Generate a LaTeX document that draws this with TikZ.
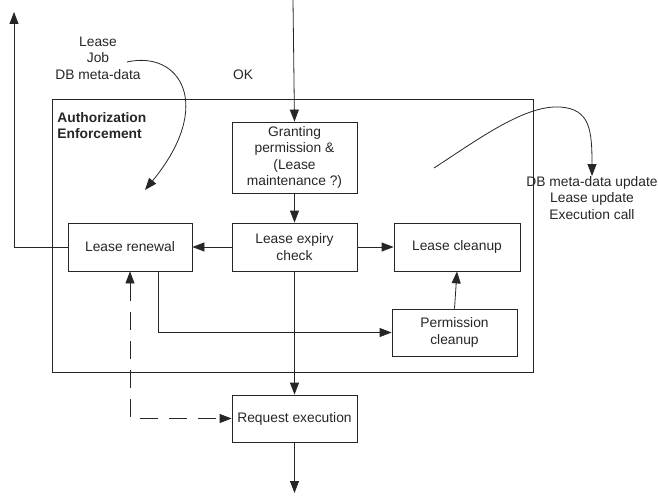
\documentclass[tikz,border=0pt]{standalone}
\usepackage{fontspec}
\setmainfont{Liberation Sans}
\usetikzlibrary{arrows.meta}
\begin{document}
\begin{tikzpicture}[x=1pt,y=-1pt,
  line width=0.8pt, draw=black!85,
  >={Triangle[length=12pt,width=9pt]},
  every node/.style={font=\fontsize{13.8}{16.5}\selectfont, text=black!85},
  stage/.style={draw, inner sep=0pt, align=center, minimum width=125pt, minimum height=48pt},
  caption/.style={align=center, inner sep=0pt},
  flow/.style={->},
  dashflow/.style={<->, dash pattern=on 18pt off 11pt}]
\useasboundingbox (0,0) rectangle (658,495);

% enclosing authorization enforcement area
\node[draw, inner sep=0pt, minimum width=481pt, minimum height=273pt] (auth) at (292.5,235.5) {};
\node[anchor=north west, align=left, inner sep=0pt, font=\fontsize{13.8}{16.5}\selectfont\bfseries] (authlbl) at (57,112) {Authorization\\Enforcement};

% processing stages
\node[stage, minimum height=71pt] (grant) at (294.5,157.5) {Granting\\permission \&\\(Lease\\maintenance ?)};
\node[stage] (expiry) at (294.5,247) {Lease expiry\\check};
\node[stage, minimum width=124pt] (renewal) at (130,247) {Lease renewal};
\node[stage, minimum width=126pt] (cleanup) at (457,247) {Lease cleanup};
\node[stage, minimum height=47pt] (perm) at (454.5,332.5) {Permission\\cleanup};
\node[stage, minimum height=47pt] (exec) at (294.5,418.5) {Request execution};

% annotations
\node[caption] (inputs) at (98,58) {Lease\\Job\\DB meta-data};
\node[caption] (ok) at (243,75) {OK};
\node[caption] (outputs) at (592,198) {DB meta-data update\\Lease update\\Execution call};

% free ends
\coordinate (topin) at (293,0);
\coordinate (leftout) at (14,12);
\coordinate (bottomout) at (294.5,493);
\coordinate (inStart) at (127,62);
\coordinate (outStart) at (434,168);

% main flow
\draw[flow] (topin) -- (grant.north);
\draw[flow] (grant) -- (expiry);
\draw[flow] (expiry) -- (renewal);
\draw[flow] (expiry) -- (cleanup);
\draw[flow] (expiry) -- (exec);
\draw[flow] (perm.north) -- (cleanup.south);
\draw[flow] ([xshift=28pt]renewal.south) |- (perm.west);
\draw[flow] (renewal.west) -| (leftout);
\draw[flow] (exec) -- (bottomout);
\draw[dashflow] (renewal.south) |- (exec.west);

% data passed in and out
\draw[flow] (inStart) .. controls (180,50) and (215,105) .. (145,190);
\draw[flow] (outStart) .. controls (480,138) and (525,105) .. (560,107)
  .. controls (590,109) and (592,130) .. (outputs.north);
\end{tikzpicture}
\end{document}
